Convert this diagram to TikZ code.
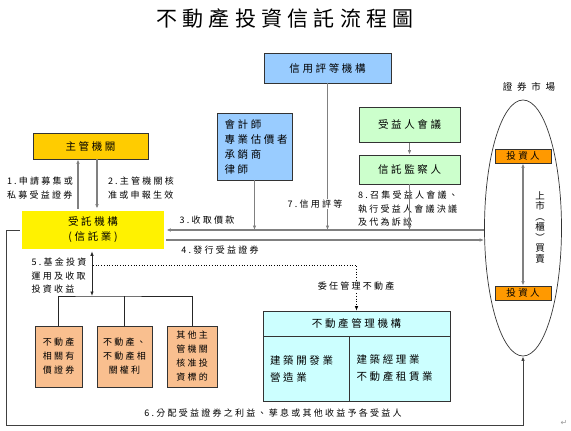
\documentclass[tikz,border=0pt]{standalone}
\usepackage{graphicx}
\usepackage{fontspec}
\setmainfont{Noto Sans CJK TC}[LetterSpace=25]
\newfontfamily\symfont{DejaVu Sans}
\usetikzlibrary{arrows.meta,shapes.geometric}
\definecolor{ratingblue}{HTML}{99CCFF}
\definecolor{meetgreen}{HTML}{CCFFCC}
\definecolor{authgold}{HTML}{FFCC00}
\definecolor{investorange}{HTML}{FF9900}
\definecolor{assettan}{HTML}{F9BF8F}
\definecolor{mgmtcyan}{HTML}{CCFFFF}

\begin{document}
\begin{tikzpicture}[x=1pt, y=-1pt,
    >={Latex[length=4.5pt,width=3.5pt]},
    box/.style={draw=black!80, line width=0.7pt, align=center, inner sep=0pt,
      font=\fontsize{10.5}{15}\selectfont},
    lbl/.style={align=left, inner sep=1pt, font=\fontsize{9}{13.5}\selectfont},
    conn/.style={draw=black!50, line width=1.2pt},
    tree/.style={draw=black!85, line width=0.8pt}]
    \useasboundingbox (0,0) rectangle (571,431);
    \node (title) at (285,19) {\fontsize{21}{24}\selectfont 不動產投資信託流程圖};
    % upper boxes
    \node[box, fill=ratingblue, minimum width=127, minimum height=30] (rating) at (327.5,68) {信用評等機構};
    \node[box, fill=ratingblue, minimum width=75, minimum height=67, text width=60, align=left] (experts) at (254.5,146.5) {會計師\\專業估價者\\承銷商\\律師};
    \node[box, fill=meetgreen, minimum width=101, minimum height=35] (meeting) at (409.5,125) {受益人會議};
    \node[box, fill=meetgreen, minimum width=101, minimum height=29] (supervisor) at (409.5,169.5) {信託監察人};
    \node[box, fill=authgold, minimum width=115, minimum height=26] (authority) at (90.5,146) {主管機關};
    \node[box, fill=yellow, double, double distance=1.2pt, outer sep=1.3pt, minimum width=144, minimum height=40] (trustee) at (93,230) {受託機構\\(信託業)};
    % securities market
    \node[draw=black!80, line width=0.7pt, ellipse, minimum width=77, minimum height=256, inner sep=0pt] (market) at (523,228) {};
    \node[font=\fontsize{9.5}{11}\selectfont\addfontfeature{LetterSpace=50}] (marketlbl) at (529,87) {證券市場};
    \node[box, fill=investorange, minimum width=56, minimum height=14, font=\fontsize{9.5}{11}\selectfont] (inv1) at (523,156) {投資人};
    \node[box, fill=investorange, minimum width=56, minimum height=14, font=\fontsize{9.5}{11}\selectfont] (inv2) at (523,293) {投資人};
    \node[align=center, inner sep=0pt, font=\fontsize{9.5}{10.5}\selectfont\addfontfeature{LetterSpace=0}] (trade) at (540,227) {上\\市\\︵\\櫃\\︶\\買\\賣};
    % investment assets
    \node[box, fill=assettan, minimum width=47, minimum height=61, font=\fontsize{9}{14}\selectfont] (asset1) at (58.5,356.5) {不動產\\相關有\\價證券};
    \node[box, fill=assettan, minimum width=55, minimum height=61, font=\fontsize{9}{14}\selectfont] (asset2) at (124.5,356.5) {不動產、\\不動產相\\關權利};
    \node[box, fill=assettan, minimum width=50, minimum height=61, font=\fontsize{9}{14}\selectfont] (asset3) at (192,356.5) {其他主\\管機關\\核准投\\資標的};
    % property management
    \node[box, fill=mgmtcyan, minimum width=187, minimum height=25] (mgmt) at (356.5,323.5) {不動產管理機構};
    \node[box, fill=mgmtcyan, minimum width=86, minimum height=65, text width=72, align=left, font=\fontsize{10.5}{17}\selectfont] (devcell) at (306,368.5) {建築開發業\\營造業};
    \node[box, fill=mgmtcyan, minimum width=101, minimum height=65, text width=86, align=left, font=\fontsize{10.5}{17}\selectfont] (leasecell) at (399.5,368.5) {建築經理業\\不動產租賃業};
    % labels
    \node[lbl] (lbl1) at (40,188) {1.申請募集或\\私募受益證券};
    \node[lbl] (lbl2) at (141,188) {2.主管機關核\\准或申報生效};
    \node[lbl] (lbl3) at (207,220) {3.收取價款};
    \node[lbl] (lbl4) at (220,250) {4.發行受益證券};
    \node[lbl] (lbl5) at (59,276) {5.基金投資\\運用及收取\\投資收益};
    \node[lbl] (lbl8) at (408,209) {8.召集受益人會議、\\執行受益人會議決議\\及代為訴訟};
    \node[lbl] (lbl6) at (273,413) {6.分配受益證券之利益、孳息或其他收益予各受益人};
    \node[text=black!40, font=\symfont\fontsize{8}{8}\selectfont] (retmark) at (564,423) {↵};
    % connectors
    \draw[conn,->] (trustee.north -| 78,0) -- (authority.south -| 78,0);
    \draw[conn,->] (authority.south -| 97,0) -- (trustee.north -| 97,0);
    \draw[conn,->] (market.west |- trustee.east) -- (trustee.east);
    \coordinate (issue) at ([yshift=-10pt]trustee.east);
    \draw[conn,->] (issue) -- (issue -| market.west);
    \draw[conn,->] (experts.south) -- (experts.south |- trustee.east);
    \draw[conn,->] (rating.south) -- (rating.south |- trustee.east);
    \draw[conn,->] (supervisor.south) -- (supervisor.south |- trustee.east);
    \draw[conn,->] (meeting.south) -- (supervisor.north);
    \draw[conn,<->] (inv1.south) -- (inv2.north);
    \coordinate (low) at (6,425);
    \draw[draw=black!75, line width=0.9pt, ->] (trustee.west) -| (low) -| (market.south);
    \coordinate (fork) at (92,296);
    \draw[tree,<->] (fork |- trustee.south) -- (fork);
    \draw[tree] (asset1.north) |- (fork) -| (asset3.north);
    \draw[tree] (asset2.north) -- (asset2.north |- fork);
    \coordinate (delegate) at (93,265);
    \draw[dotted, line width=0.7pt, ->] (delegate) -| (mgmt.north);
    \node[lbl, fill=white] (lbl7) at (315,204) {7.信用評等};
    \node[lbl, fill=white] (lblmgmt) at (356,286) {委任管理不動產};
\end{tikzpicture}
\end{document}
